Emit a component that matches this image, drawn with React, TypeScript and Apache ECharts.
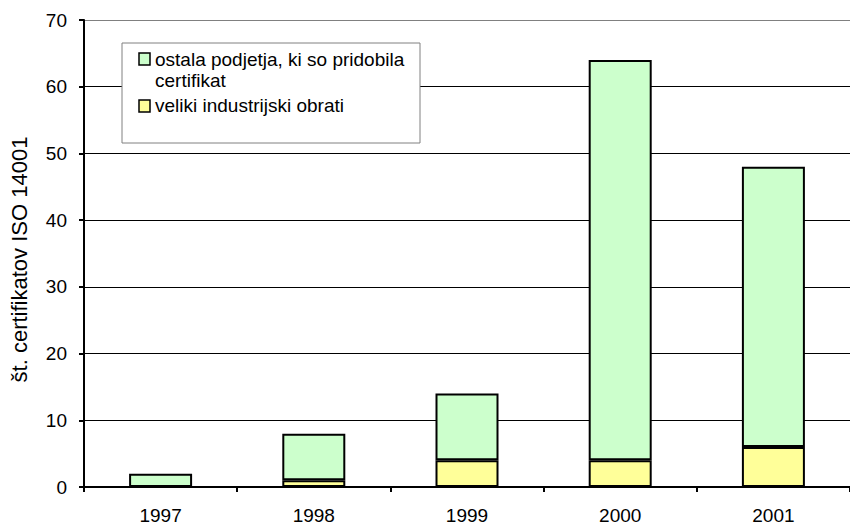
import React, { useEffect, useRef } from "react";
import * as echarts from "echarts";

const years = ["1997", "1998", "1999", "2000", "2001"];
const industrial = [0, 1, 4, 4, 6];
const others = [2, 7, 10, 60, 42];
const seriesNames = ["ostala podjetja, ki so pridobila\ncertifikat", "veliki industrijski obrati"];
const yTicks = { min: 0, max: 70, interval: 10 };

const FONT = "'Liberation Sans', Arial, sans-serif";

export default function App() {
  const ref = useRef<HTMLDivElement>(null);
  useEffect(() => {
    if (!ref.current) return;
    const chart = echarts.init(ref.current, undefined, { renderer: "svg" });
    const fs = 19;
    chart.setOption({
      animation: false,
      backgroundColor: "#ffffff",
      textStyle: { fontFamily: FONT },
      grid: { left: 80, top: 20, bottom: 39, right: -9, show: false },
      xAxis: {
        type: "category",
        data: years,
        boundaryGap: true,
        axisLine: { lineStyle: { color: "#000", width: 2 } },
        axisTick: { show: true, alignWithLabel: false, length: 5, lineStyle: { color: "#000", width: 2 } },
        axisLabel: { color: "#000", fontSize: fs, fontFamily: FONT, margin: 19 },
      },
      yAxis: {
        type: "value",
        min: yTicks.min,
        max: yTicks.max,
        interval: yTicks.interval,
        name: "št. certifikatov ISO 14001",
        nameLocation: "middle",
        nameGap: 54,
        nameTextStyle: { color: "#000", fontSize: 22, fontFamily: FONT, padding: [0, 12, 0, 0] },
        axisLine: { show: true, lineStyle: { color: "#000", width: 2 } },
        axisTick: { show: true, length: 5, lineStyle: { color: "#000", width: 2 } },
        axisLabel: { color: "#000", fontSize: fs, fontFamily: FONT, margin: 17 },
        splitLine: {
          show: true,
          lineStyle: {
            color: ["#000", "#000", "#000", "#000", "#000", "#000", "#000", "#808080"],
            width: 1,
          },
        },
      },
      series: [
        {
          name: seriesNames[1],
          type: "bar",
          stack: "total",
          data: industrial,
          barWidth: 63,
          itemStyle: { color: "#FFFF99", borderColor: "#000", borderWidth: 2 },
        },
        {
          name: seriesNames[0],
          type: "bar",
          stack: "total",
          data: others,
          barWidth: 63,
          itemStyle: { color: "#CCFFCC", borderColor: "#000", borderWidth: 2 },
        },
      ],
      graphic: [
        {
          type: "rect",
          shape: { x: 122, y: 43, width: 298, height: 100 },
          style: { fill: "#fff", stroke: "#808080", lineWidth: 1 },
          z: 10,
        },
        {
          type: "rect",
          shape: { x: 139, y: 53, width: 11, height: 12 },
          style: { fill: "#CCFFCC", stroke: "#000", lineWidth: 1.5 },
          z: 11,
        },
        {
          type: "text",
          x: 155,
          y: 49,
          style: { text: seriesNames[0], fill: "#000", font: `${fs}px ${FONT}`, lineHeight: 21 },
          z: 11,
        },
        {
          type: "rect",
          shape: { x: 139, y: 100, width: 11, height: 12 },
          style: { fill: "#FFFF99", stroke: "#000", lineWidth: 1.5 },
          z: 11,
        },
        {
          type: "text",
          x: 155,
          y: 95,
          style: { text: seriesNames[1], fill: "#000", font: `${fs}px ${FONT}`, lineHeight: 21 },
          z: 11,
        },
      ],
    });
    return () => chart.dispose();
  }, []);
  return (
    <div
      ref={ref}
      style={{ position: "fixed", left: 0, top: 0, width: 850, height: 526, background: "#fff" }}
    />
  );
}
